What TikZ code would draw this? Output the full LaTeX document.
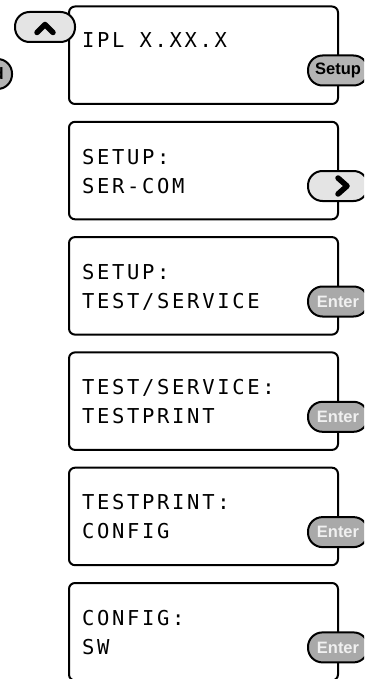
\documentclass[tikz,border=0pt]{standalone}
\usepackage{fontspec}
\newfontfamily\lcdfont[LetterSpace=13]{DejaVu Sans Mono}
\newfontfamily\keyfont{Liberation Sans}
\definecolor{keylight}{HTML}{E4E4E4}
\definecolor{keysetup}{HTML}{B4B4B4}
\definecolor{keyenter}{HTML}{A9A9A9}
\definecolor{keytext}{HTML}{F0F0F0}
\begin{document}
\begin{tikzpicture}[x=1pt,y=-1pt,
  screen/.style={draw=black,line width=2pt,fill=white,rounded corners=6pt,
    minimum width=269pt,minimum height=97.5pt,anchor=north west,inner sep=0pt},
  lcdtext/.style={anchor=base west,inner sep=0pt,font=\lcdfont\fontsize{20.5}{24}\selectfont},
  keypill/.style={draw=black,line width=2pt,rounded corners=14.5pt,
    minimum width=60pt,minimum height=30pt,inner sep=0pt},
  lightkey/.style={keypill,fill=keylight},
  setupkey/.style={keypill,fill=keysetup,font=\keyfont\bfseries\fontsize{16.5}{19}\selectfont},
  enterkey/.style={keypill,fill=keyenter,text=keytext,font=\keyfont\bfseries\fontsize{16.5}{19}\selectfont},
  chevron/.style={line width=5.5pt,line cap=round,line join=round}]
\useasboundingbox (0,0) rectangle (364,679);
\clip (0,0) rectangle (364,679);
% screens
\node[screen] (b1) at (68,5.5) {};
\node[screen] (b2) at (68,120.8) {};
\node[screen] (b3) at (68,236.1) {};
\node[screen] (b4) at (68,351.4) {};
\node[screen] (b5) at (68,466.7) {};
\node[screen] (b6) at (68,582) {};
% texts
\node[lcdtext] (t1) at (82,48) {IPL X.XX.X};
\node[lcdtext] (t2a) at (82,164.3) {SETUP:};
\node[lcdtext] (t2b) at (82,193.3) {SER-COM};
\node[lcdtext] (t3a) at (82,279.1) {SETUP:};
\node[lcdtext] (t3b) at (82,308.1) {TEST/SERVICE};
\node[lcdtext] (t4a) at (82,394.4) {TEST/SERVICE:};
\node[lcdtext] (t4b) at (82,423.4) {TESTPRINT};
\node[lcdtext] (t5a) at (82,509.7) {TESTPRINT:};
\node[lcdtext] (t5b) at (82,538.7) {CONFIG};
\node[lcdtext] (t6a) at (82,625) {CONFIG:};
\node[lcdtext] (t6b) at (82,654) {SW};
% keys
\node[lightkey] (kup) at (45,27) {};
\draw[chevron] ([shift={(-8,5.5)}]kup.center) -- ([shift={(0,-2.5)}]kup.center) -- ([shift={(8,5.5)}]kup.center);
\node[setupkey,fill=keysetup] (kleft) at (-18,74) {};
\node[anchor=base east,inner sep=0pt,font=\keyfont\bfseries\fontsize{16.5}{19}\selectfont] (kleftt) at (4,80) {Feed};
\node[setupkey] (k1) at (338,70.5) {Setup};
\node[lightkey] (k2) at (338,186) {};
\draw[chevron] ([shift={(0,-8)}]k2.center) -- ([shift={(9,0)}]k2.center) -- ([shift={(0,8)}]k2.center);
\node[enterkey] (k3) at (338,301.5) {Enter};
\node[enterkey] (k4) at (338,416.8) {Enter};
\node[enterkey] (k5) at (338,532.1) {Enter};
\node[enterkey] (k6) at (338,647.4) {Enter};
\end{tikzpicture}
\end{document}
